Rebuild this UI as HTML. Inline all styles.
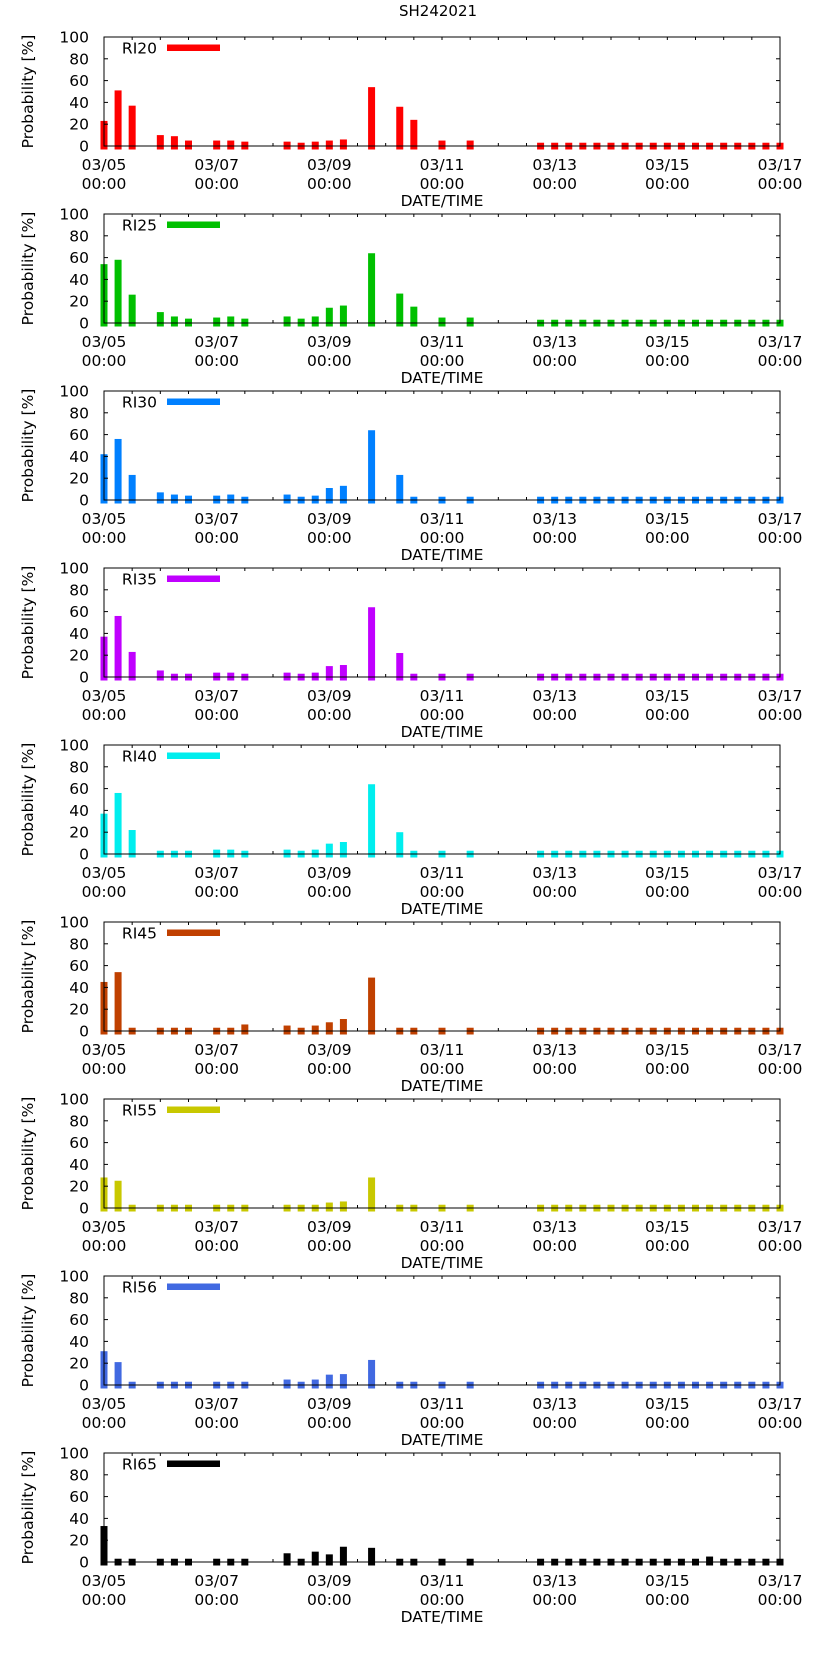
<!DOCTYPE html>
<html><head><meta charset="utf-8"><style>
body{margin:0;background:#fff;}
svg{display:block;font-family:"DejaVu Sans","Liberation Sans",sans-serif;}
</style></head><body>
<svg id="chart" width="822" height="1653" viewBox="0 0 822 1653" xmlns="http://www.w3.org/2000/svg">
<text x="438" y="16" font-size="15" text-anchor="middle">SH242021</text>
</svg>
<script>
const seriesNames = ["RI20","RI25","RI30","RI35","RI40","RI45","RI55","RI56","RI65"];
const seriesColors = ["#ff0000","#00c000","#0080ff","#c000ff","#00eeee","#c04000","#c8c800","#4169e1","#000000"];
const barSlots = [0,1,2,4,5,6,8,9,10,13,14,15,16,17,19,21,22,24,26,31,32,33,34,35,36,37,38,39,40,41,42,43,44,45,46,47,48];
const tickLabels = ["03/05","03/07","03/09","03/11","03/13","03/15","03/17"];
const yTicks = [0,20,40,60,80,100];
const tail = [3,3,3,3,3,3,3,3,3,3,3,3,3,3,3,3,3,3];
const vRI20 = [23,51,37,10,9,5,5,5,4,4,3,4,5,6,54,36,24,5,5];
const vRI25 = [54,58,26,10,6,4,5,6,4,6,4,6,14,16,64,27,15,5,5];
const vRI30 = [42,56,23,7,5,4,4,5,3,5,3,4,11,13,64,23,3,3,3];
const vRI35 = [37,56,23,6,3,3,4,4,3,4,3,4,10,11,64,22,3,3,3];
const vRI40 = [37,56,22,3,3,3,4,4,3,4,3,4,9.5,11,64,20,3,3,3];
const vRI45 = [45,54,3,3,3,3,3,3,6,5,3,5,8,11,49,3,3,3,3];
const vRI55 = [28,25,3,3,3,3,3,3,3,3,3,3,5,6,28,3,3,3,3];
const vRI56 = [31,21,3,3,3,3,3,3,3,5,3,5,9.5,10,23,3,3,3,3];
const vRI65 = [33,3,3,3,3,3,3,3,3,8,3,9.5,7,14,13,3,3,3,3];
const tailRI65 = [3,3,3,3,3,3,3,3,3,3,3,3,5,3,3,3,3,3];
const allValues = [vRI20.concat(tail),vRI25.concat(tail),vRI30.concat(tail),vRI35.concat(tail),vRI40.concat(tail),vRI45.concat(tail),vRI55.concat(tail),vRI56.concat(tail),vRI65.concat(tailRI65)];

const svg = document.getElementById('chart');
const NS = "http://www.w3.org/2000/svg";
const X0 = 104, X1 = 780, SLOTS = 48;
const PITCH = 177, TOP0 = 37, H = 109;
function xScale(slot){ return X0 + (X1 - X0) * slot / SLOTS; }
function mk(tag, attrs){ const e=document.createElementNS(NS,tag); for(const k in attrs) e.setAttribute(k,attrs[k]); return e; }

seriesNames.forEach((name, p) => {
  const top = TOP0 + p*PITCH, base = top + H;
  const yScale = v => base - v/100*H;
  const g = mk('g', {});
  
  
  svg.appendChild(g);
  // x ticks every 12h (under bars)
  for (let s = 2; s < SLOTS; s += 2) {
    const x = xScale(s);
    g.appendChild(mk('line', {x1: x, x2: x, y1: base, y2: base-3, stroke: '#000'}));
    g.appendChild(mk('line', {x1: x, x2: x, y1: top, y2: top+3, stroke: '#000'}));
  }
  // bars
  allValues[p].forEach((v, i) => {
    const x = xScale(barSlots[i]);
    const r = mk('rect', {x: x-3.5, y: yScale(v), width: 7, height: base + 3.5 - yScale(v), fill: seriesColors[p]});
    
    
    g.appendChild(r);
  });
  // frame
  const fr = mk('rect', {x: X0, y: top, width: X1-X0, height: H, fill: 'none', stroke: '#000', 'stroke-width': 1});
  
  
  g.appendChild(fr);
  // y ticks
  yTicks.forEach(t => {
    const y = yScale(t);
    g.appendChild(mk('line', {x1: X0, x2: X0+4, y1: y, y2: y, stroke: '#000'}));
    g.appendChild(mk('line', {x1: X1-4, x2: X1, y1: y, y2: y, stroke: '#000'}));
    const tl = mk('text', {x: 89, y: y+5.5, 'font-size': 15.5, 'text-anchor': 'end'});
    
    
    tl.textContent = t;
    g.appendChild(tl);
  });
  tickLabels.forEach((lab, i) => {
    const x = xScale(i*8);
    const t1 = mk('text', {x: x, y: base+24, 'font-size': 15.5, 'text-anchor': 'middle'});
    
    
    t1.textContent = lab;
    g.appendChild(t1);
    const t2 = mk('text', {x: x, y: base+43, 'font-size': 15.5, 'text-anchor': 'middle'});
    
    
    t2.textContent = "00:00";
    g.appendChild(t2);
  });
  const xt = mk('text', {x: 442, y: base+60, 'font-size': 15.5, 'text-anchor': 'middle'});
  
  
  xt.textContent = "DATE/TIME";
  g.appendChild(xt);
  const yt = mk('text', {x: 0, y: 0, 'font-size': 15.5, 'text-anchor': 'middle', transform: `translate(33,${top+H/2}) rotate(-90)`});
  
  
  yt.textContent = "Probability [%]";
  g.appendChild(yt);
  // legend
  const lt = mk('text', {x: 157, y: top+16.5, 'font-size': 15.5, 'text-anchor': 'end'});
  
  
  lt.textContent = name;
  g.appendChild(lt);
  const ls = mk('rect', {x: 167, y: top+7.5, width: 53, height: 6.5, fill: seriesColors[p]});
  
  
  g.appendChild(ls);
});
</script>
</body></html>
